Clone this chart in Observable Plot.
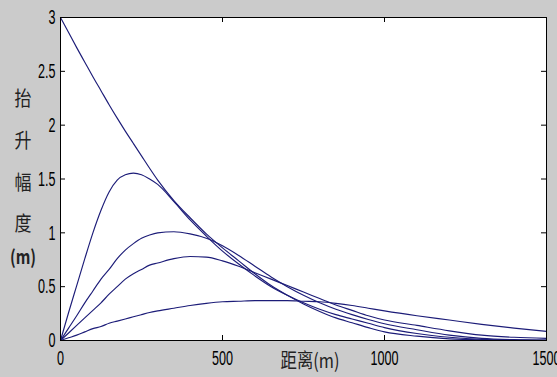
<!DOCTYPE html>
<html>
<head>
<meta charset="utf-8">
<script src="https://cdn.jsdelivr.net/npm/d3@7"></script>
<script src="https://cdn.jsdelivr.net/npm/@observablehq/plot@0.6"></script>
<style>
  html, body { margin: 0; padding: 0; background: #cbcbcb; }
  #chart { width: 557px; height: 377px; overflow: hidden; }
</style>
</head>
<body>
<div id="chart"></div>
<script>
// ---- data ----
const distances = [0, 25, 50, 75, 100, 125, 150, 175, 200, 225, 250, 275, 300, 350, 400, 450, 500, 550, 600, 650, 700, 750, 800, 850, 900, 950, 1000, 1100, 1200, 1300, 1400, 1500];

const curveA = [3.00, 2.86, 2.72, 2.585, 2.45, 2.32, 2.19, 2.065, 1.945, 1.83, 1.715, 1.60, 1.49, 1.30, 1.14, 0.99, 0.86, 0.74, 0.62, 0.51, 0.42, 0.34, 0.27, 0.21, 0.165, 0.12, 0.08, 0.04, 0.015, 0.005, 0.002, 0.001];
const curveB = [0, 0.26, 0.51, 0.76, 1.00, 1.21, 1.38, 1.49, 1.54, 1.555, 1.54, 1.50, 1.45, 1.29, 1.12, 0.97, 0.83, 0.71, 0.60, 0.50, 0.42, 0.35, 0.29, 0.24, 0.20, 0.16, 0.12, 0.065, 0.03, 0.01, 0.004, 0.001];
const curveC = [0, 0.115, 0.23, 0.35, 0.46, 0.57, 0.66, 0.76, 0.84, 0.90, 0.95, 0.98, 1.00, 1.01, 0.99, 0.95, 0.88, 0.79, 0.69, 0.59, 0.50, 0.42, 0.35, 0.29, 0.24, 0.195, 0.155, 0.10, 0.05, 0.02, 0.008, 0.003];
const curveD = [0, 0.07, 0.14, 0.21, 0.28, 0.35, 0.43, 0.50, 0.57, 0.62, 0.66, 0.70, 0.72, 0.76, 0.78, 0.775, 0.74, 0.69, 0.63, 0.57, 0.51, 0.45, 0.39, 0.33, 0.28, 0.23, 0.19, 0.14, 0.09, 0.05, 0.03, 0.02];
const curveE = [0, 0.025, 0.05, 0.08, 0.11, 0.13, 0.16, 0.18, 0.20, 0.22, 0.24, 0.26, 0.275, 0.30, 0.325, 0.345, 0.36, 0.365, 0.37, 0.37, 0.37, 0.365, 0.36, 0.345, 0.325, 0.30, 0.275, 0.23, 0.19, 0.15, 0.115, 0.085];

const xTicks = [0, 500, 1000, 1500];
const xTickLabels = ["0", "500", "1000", "1500"];
const yTicks = [0, 0.5, 1, 1.5, 2, 2.5, 3];
const yTickLabels = ["0", "0.5", "1", "1.5", "2", "2.5", "3"];
const yLabelChars = ["抬", "升", "幅", "度", "(m)"];
const xLabel = "距离(m)";

// ---- build table ----
const seriesList = [["A", curveA], ["B", curveB], ["C", curveC], ["D", curveD], ["E", curveE]];
const rows = [];
for (const [name, vals] of seriesList) {
  distances.forEach((d, i) => rows.push({series: name, distance: d, value: vals[i]}));
}

const W = 557, H = 377, mL = 60, mR = 11, mT = 17, mB = 37;
const plotW = W - mL - mR, plotH = H - mT - mB;
const tickLen = 5;
const lineColor = "#1c1c78";

const chart = Plot.plot({
  width: W, height: H,
  marginLeft: mL, marginRight: mR, marginTop: mT, marginBottom: mB,
  style: {background: "transparent", fontFamily: "'Liberation Sans', Arial, sans-serif", color: "black", overflow: "visible"},
  x: {domain: [0, 1500]},
  y: {domain: [0, 3]},
  marks: [
    Plot.frame({fill: "white", stroke: null}),
    Plot.line(rows, {x: "distance", y: "value", z: "series", stroke: lineColor, strokeWidth: 1.15, curve: "monotone-x"}),
    Plot.ruleX(xTicks, {x: d => d, insetTop: plotH - tickLen, stroke: "black"}),
    Plot.ruleX(xTicks, {x: d => d, insetBottom: plotH - tickLen, stroke: "black"}),
    Plot.ruleY(yTicks, {y: d => d, insetRight: plotW - tickLen, stroke: "black"}),
    Plot.ruleY(yTicks, {y: d => d, insetLeft: plotW - tickLen, stroke: "black"}),
    Plot.frame({stroke: "black", strokeWidth: 1}),
    Plot.axisX({ticks: xTicks, tickSize: 0, tickPadding: 10, fontSize: 21, label: null,
      tickFormat: d => xTickLabels[xTicks.indexOf(d)]}),
    Plot.axisY({ticks: yTicks, tickSize: 0, tickPadding: 5, fontSize: 21, label: null,
      tickFormat: d => yTickLabels[yTicks.indexOf(d)]})
  ]
});

document.getElementById("chart").appendChild(chart);

// narrow the tick-label glyphs (tall, condensed MATLAB-like digits)
const svg = d3.select(chart);
svg.selectAll('g[aria-label="x-axis tick label"] text, g[aria-label="y-axis tick label"] text').each(function() {
  const x = +(this.getAttribute("x") || 0);
  const t = this.getAttribute("transform") || "";
  this.setAttribute("transform", `${t} translate(${x},0) scale(0.6,1) translate(${-x},0)`);
});

// axis titles as real text
const cjk = "'Noto Sans CJK SC', 'Noto Sans', sans-serif";
const yCharPos = [99, 141, 183, 224, 257];
yLabelChars.forEach((c, i) => {
  svg.append("text")
    .attr("transform", `translate(23,${yCharPos[i]}) scale(${c.length > 1 ? 0.8 : 0.85},1)`)
    .attr("text-anchor", "middle")
    .attr("dy", "0.36em")
    .attr("font-family", cjk)
    .attr("font-weight", c.length > 1 ? 700 : 400)
    .attr("font-size", c.length > 1 ? 19 : 20)
    .attr("fill", "#222")
    .text(c);
});
svg.append("text")
  .attr("transform", `translate(310,361) scale(0.82,1)`)
  .attr("text-anchor", "middle")
  .attr("dy", "0.36em")
  .attr("font-family", cjk)
  .attr("font-size", 20)
  .attr("fill", "#222")
  .text(xLabel);
</script>
</body>
</html>
